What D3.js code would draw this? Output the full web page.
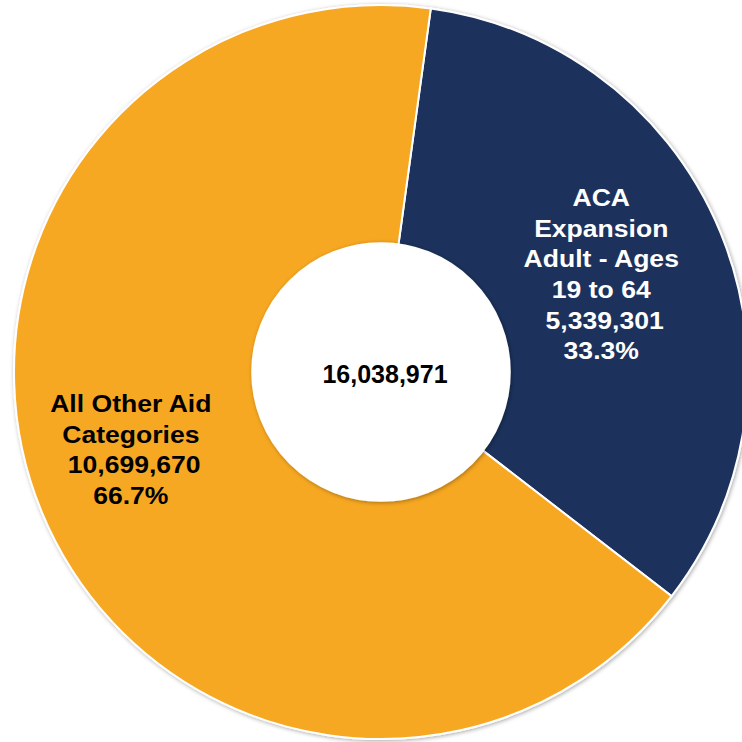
<!DOCTYPE html>
<html>
<head>
<meta charset="utf-8">
<script src="https://cdn.jsdelivr.net/npm/d3@7"></script>
<style>
  body { margin: 0; background: #fff; }
  svg { display: block; font-family: "Liberation Sans", Arial, sans-serif; }
</style>
</head>
<body>
<div class="donut"></div>
<script>
// data
const categories = ["ACA Expansion Adult - Ages 19 to 64", "All Other Aid Categories"];
const values = [5339301, 10699670];
const percents = ["33.3%", "66.7%"];
const labelLines = [
    ["ACA", "Expansion", "Adult - Ages", "19 to 64"],
    ["All Other Aid", "Categories"]
];
const totalLabel = "16,038,971";

const width = 742, height = 742;
const cx = 381, cy = 372;
const outerR = 367, innerR = 129;
const colors = ["#1b325c", "#f7a823"];
const textColors = ["#ffffff", "#000000"];
const startAngle = 7.8 * Math.PI / 180;

let svg = d3.select('.donut')
            .append('svg')
            .attr('width', width)
            .attr('height', height);

let defs = svg.append("defs");
let shadow = defs.append("filter")
    .attr("id", "shadow")
    .attr("x", "-10%").attr("y", "-10%")
    .attr("width", "120%").attr("height", "120%");
shadow.append("feDropShadow")
    .attr("dx", 1).attr("dy", 1)
    .attr("stdDeviation", 2)
    .attr("flood-color", "#000")
    .attr("flood-opacity", 0.35);

let g = svg.append("g")
    .attr("transform", "translate(" + cx + "," + cy + ")");

let pie = d3.pie()
    .sort(null)
    .startAngle(startAngle)
    .endAngle(startAngle + 2 * Math.PI);

let arcs = pie(values);

let arc = d3.arc()
    .innerRadius(0)
    .outerRadius(outerR);

// slices
g.append("g")
    .attr("filter", "url(#shadow)")
    .selectAll("path")
    .data(arcs)
    .enter()
    .append("path")
    .attr("d", arc)
    .attr("fill", function(d, i){ return colors[i]; })
    .attr("stroke", "#fff")
    .attr("stroke-width", 2);

// hole
g.append("circle")
    .attr("r", innerR)
    .attr("fill", "#fff")
    .attr("stroke", "#fff")
    .attr("stroke-width", 1.5)
    .attr("filter", "url(#shadow)");

g.append("text")
    .attr("x", 4)
    .attr("y", 11)
    .attr("text-anchor", "middle")
    .attr("font-size", 25)
    .attr("font-weight", "bold")
    .attr("fill", "#000")
    .text(totalLabel);

// labels: radius, angle and vertical nudge per slice
const labelR = [238, 262];
const angleNudge = [0, 5 * Math.PI / 180];
const dyNudge = [-7, 0];
const fmt = d3.format(",");
const lineH = 30.6;

arcs.forEach(function(d, i){
    let a = (d.startAngle + d.endAngle) / 2 + angleNudge[i];
    let x = labelR[i] * Math.sin(a);
    let y = -labelR[i] * Math.cos(a);
    let lines = labelLines[i].concat([fmt(values[i]), percents[i]]);
    let top = y - (lines.length - 1) * lineH / 2 + 8 + dyNudge[i];
    let t = g.append("g")
        .attr("transform", "translate(" + x + "," + top + ") scale(1.13,1)");
    t.selectAll("text")
        .data(lines)
        .enter()
        .append("text")
        .attr("x", function(l){ return /^\d/.test(l) && l.indexOf(",") > 0 ? 3 : 0; })
        .attr("y", function(l, j){ return j * lineH; })
        .attr("text-anchor", "middle")
        .attr("font-size", 23.5)
        .attr("font-weight", "bold")
        .attr("fill", textColors[i])
        .text(function(l){ return l; });
});
</script>
</body>
</html>
